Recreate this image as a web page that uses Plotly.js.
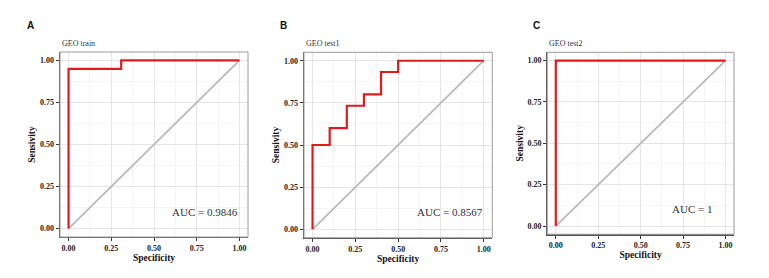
<!DOCTYPE html>
<html>
<head>
<meta charset="utf-8">
<script src="https://cdn.plot.ly/plotly-3.0.1.min.js"></script>
<style>html,body{margin:0;padding:0;background:#fff}#chart{width:769px;height:278px}</style>
</head>
<body>
<div id="chart"></div>
<script>
// ROC data (x axis labelled "Specificity", sensitivity on y)
const panelLetters = ["A", "B", "C"];
const panelTitles = ["GEO train", "GEO test1", "GEO test2"];
const aucLabels = ["AUC = 0.9846", "AUC = 0.8567", "AUC = 1"];

const specA = [0, 0, 0.308, 0.308, 1];
const sensA = [0, 0.95, 0.95, 1, 1];

const specB = [0, 0, 0.1, 0.1, 0.2, 0.2, 0.3, 0.3, 0.4, 0.4, 0.5, 0.5, 1];
const sensB = [0, 0.5, 0.5, 0.6, 0.6, 0.733, 0.733, 0.8, 0.8, 0.933, 0.933, 1, 1];

const specC = [0, 0, 1];
const sensC = [0, 1, 1];

const diagX = [0, 1];
const diagY = [0, 1];

const tickVals = [0, 0.25, 0.5, 0.75, 1];
const tickText = ["0.00", "0.25", "0.50", "0.75", "1.00"];

const W = 769, H = 278;
// pixel boxes of each panel: [left, right, top, bottom]
const boxes = [[60, 248, 52, 237], [304, 492.3, 52.3, 237.7], [547.3, 734, 52.3, 234.3]];
const letterX = [25, 278, 531];

const specs = [specA, specB, specC];
const senss = [sensA, sensB, sensC];

const serif = "Liberation Serif, Times New Roman, serif";
const traces = [];
const layout = {
  width: W, height: H,
  margin: {l: 0, r: 0, t: 0, b: 0},
  paper_bgcolor: "#fff", plot_bgcolor: "#fff",
  showlegend: false,
  annotations: [],
  shapes: []
};

for (let i = 0; i < 3; i++) {
  const sfx = i === 0 ? "" : String(i + 1);
  const xa = "x" + sfx, ya = "y" + sfx;
  traces.push({x: diagX, y: diagY, xaxis: xa, yaxis: ya, mode: "lines",
    line: {color: "#b9b9b9", width: 1.8}, hoverinfo: "skip"});
  traces.push({x: specs[i], y: senss[i], xaxis: xa, yaxis: ya, mode: "lines",
    line: {color: "#e01b1f", width: 2.2}, name: panelTitles[i]});
  const [l, r, t, b] = boxes[i];
  const common = {
    tickvals: tickVals, ticktext: tickText,
    ticks: "outside", ticklen: 3, tickwidth: 1, tickcolor: "#333",
    tickfont: {family: serif, size: 8, color: "#222", weight: "bold"},
    showgrid: true, gridcolor: "#e6e6e6", gridwidth: 1,
    minor: {tickvals: [0.125, 0.375, 0.625, 0.875], showgrid: true, gridcolor: "#f2f2f2", gridwidth: 0.8, ticks: ""},
    zeroline: false,
    showline: true, linecolor: "#555", linewidth: 1.3, mirror: false,
    range: [-0.05, 1.05], fixedrange: true
  };
  layout["xaxis" + sfx] = Object.assign({}, common, {
    domain: [l / W, r / W], anchor: ya,
    title: {text: "Specificity", font: {family: serif, size: 9.5, color: "#111", weight: "bold"}, standoff: 0}
  });
  layout["yaxis" + sfx] = Object.assign({}, common, {
    domain: [1 - b / H, 1 - t / H], anchor: xa,
    title: {text: "Sensivity", font: {family: serif, size: 9.5, color: "#111", weight: "bold"}, standoff: 2}
  });
  layout.shapes.push({type: "rect", xref: xa + " domain", yref: ya + " domain", x0: 0, x1: 1, y0: 0, y1: 1,
    line: {color: "#9a9a9a", width: 1}, fillcolor: "rgba(0,0,0,0)", layer: "above"});
  layout.annotations.push({xref: "paper", yref: "paper", x: l / W, y: 1 - 43 / H, xanchor: "left", yanchor: "middle",
    text: panelTitles[i], showarrow: false, font: {family: serif, size: 8, color: "#333"}});
  layout.annotations.push({xref: "paper", yref: "paper", x: letterX[i] / W, y: 1 - 25 / H, xanchor: "left", yanchor: "middle",
    text: "<b>" + panelLetters[i] + "</b>", showarrow: false, font: {family: "Liberation Sans, Arial, sans-serif", size: 10, color: "#111"}});
  layout.annotations.push({xref: xa, yref: ya, x: 0.8, y: 0.1, xanchor: "center", yanchor: "middle",
    text: aucLabels[i], showarrow: false, font: {family: serif, size: 11, color: "#333"}});
}

Plotly.newPlot("chart", traces, layout, {displayModeBar: false, staticPlot: true});
</script>
</body>
</html>
